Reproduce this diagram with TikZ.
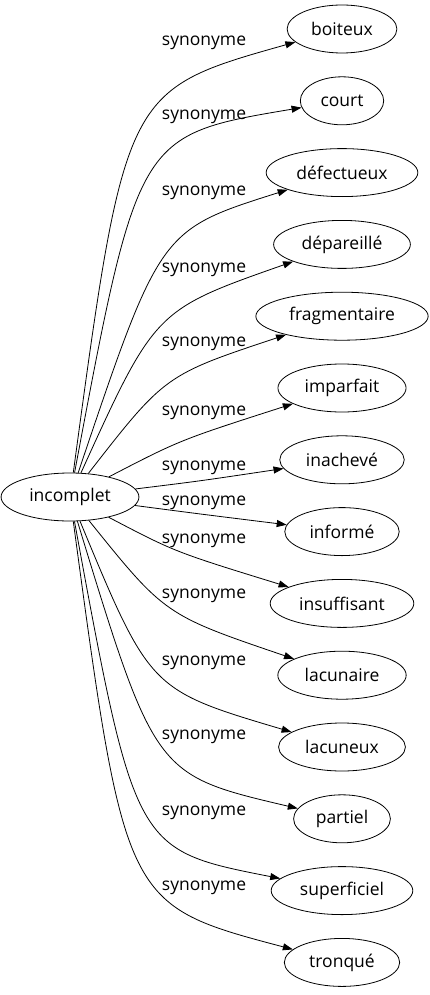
\documentclass[tikz,border=0pt]{standalone}
\usepackage{fontspec}
\setmainfont{Open Sans}
\usetikzlibrary{positioning, shapes.geometric, arrows.meta}

\begin{document}
\begin{tikzpicture}[x=1pt, y=-1pt, node distance=23pt,
    word/.style={draw, ellipse, minimum height=48pt, inner xsep=8pt, line width=0.8pt,
      font=\fontsize{17.5}{20}\selectfont},
    syn/.style={inner sep=0pt, font=\fontsize{17.5}{20}\selectfont},
    link/.style={-{Triangle[length=10pt, width=7pt]}, line width=0.8pt}]
  \useasboundingbox (0,0) rectangle (429,995);

  \node[word] (incomplet) at (70,497) {incomplet};
  \node[word] (boiteux) at (342,29) {boiteux};
  \node[word, below=of boiteux]      (court)        {court};
  \node[word, below=of court]        (defectueux)   {défectueux};
  \node[word, below=of defectueux]   (depareille)   {dépareillé};
  \node[word, below=of depareille]   (fragmentaire) {fragmentaire};
  \node[word, below=of fragmentaire] (imparfait)    {imparfait};
  \node[word, below=of imparfait]    (inacheve)     {inachevé};
  \node[word, below=of inacheve]     (informe)      {informé};
  \node[word, below=of informe]      (insuffisant)  {insuffisant};
  \node[word, below=of insuffisant]  (lacunaire)    {lacunaire};
  \node[word, below=of lacunaire]    (lacuneux)     {lacuneux};
  \node[word, below=of lacuneux]     (partiel)      {partiel};
  \node[word, below=of partiel]      (superficiel)  {superficiel};
  \node[word, below=of superficiel]  (tronque)      {tronqué};

  \node[syn] (s1)  at (204,43)  {synonyme};
  \node[syn] (s2)  at (204,117) {synonyme};
  \node[syn] (s3)  at (204,193) {synonyme};
  \node[syn] (s4)  at (204,270) {synonyme};
  \node[syn] (s5)  at (204,344) {synonyme};
  \node[syn] (s6)  at (204,413) {synonyme};
  \node[syn] (s7)  at (204,468) {synonyme};
  \node[syn] (s8)  at (204,503) {synonyme};
  \node[syn] (s9)  at (204,541) {synonyme};
  \node[syn] (s10) at (204,596) {synonyme};
  \node[syn] (s11) at (204,663) {synonyme};
  \node[syn] (s12) at (204,737) {synonyme};
  \node[syn] (s13) at (204,813) {synonyme};
  \node[syn] (s14) at (204,888) {synonyme};

  \draw[link] (incomplet) .. controls (125,90)  .. (boiteux);
  \draw[link] (incomplet) .. controls (138,135) .. (court);
  \draw[link] (incomplet) .. controls (160,230) .. (defectueux);
  \draw[link] (incomplet) .. controls (155,310) .. (depareille);
  \draw[link] (incomplet) .. controls (165,375) .. (fragmentaire);
  \draw[link] (incomplet) .. controls (180,440) .. (imparfait);
  \draw[link] (incomplet) .. controls (200,481) .. (inacheve);
  \draw[link] (incomplet) .. controls (200,514) .. (informe);
  \draw[link] (incomplet) .. controls (175,552) .. (insuffisant);
  \draw[link] (incomplet) .. controls (165,615) .. (lacunaire);
  \draw[link] (incomplet) .. controls (150,690) .. (lacuneux);
  \draw[link] (incomplet) .. controls (155,775) .. (partiel);
  \draw[link] (incomplet) .. controls (135,850) .. (superficiel);
  \draw[link] (incomplet) .. controls (125,905) .. (tronque);
\end{tikzpicture}
\end{document}
